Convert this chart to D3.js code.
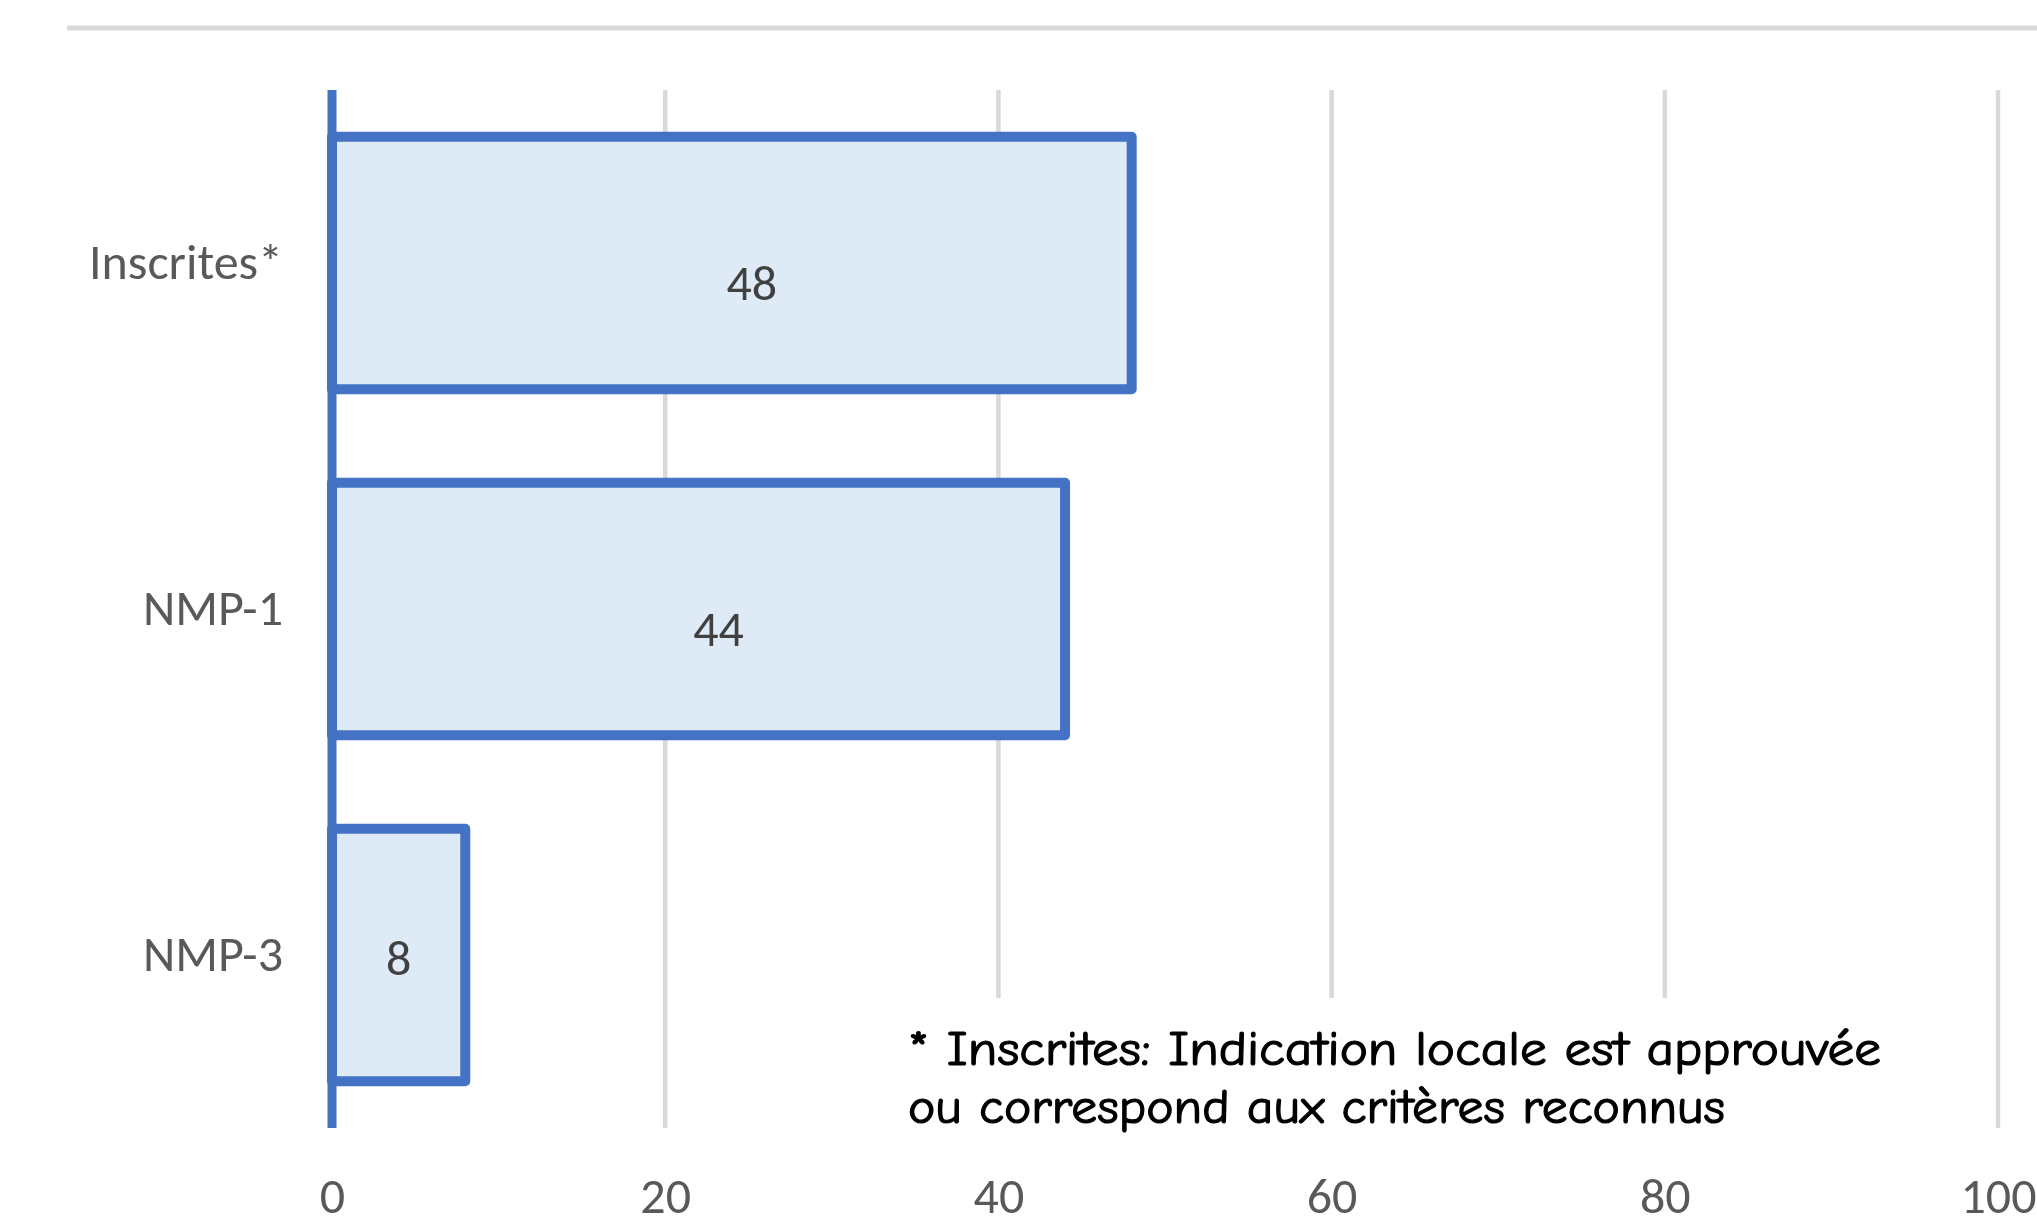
<!DOCTYPE html>
<html>
<head>
<meta charset="utf-8">
<script src="https://cdn.jsdelivr.net/npm/d3@7"></script>
<style>
  html, body { margin: 0; padding: 0; background: #ffffff; }
  svg { display: block; }
</style>
</head>
<body>
<svg id="chart" width="2037" height="1224"></svg>
<script>
// Number of indications per category
const categories = ["Inscrites*", "NMP-1", "NMP-3"];
const values = [48, 44, 8];
const xTicks = [0, 20, 40, 60, 80, 100];
const footnoteLines = [
  "* Inscrites: Indication locale est approuvée",
  "ou correspond aux critères reconnus"
];

const svg = d3.select("#chart");
const W = 2037, H = 1224;

const plot = { left: 332, right: 1998, top: 90, bottom: 1128 };

const x = d3.scaleLinear().domain([0, 100]).range([plot.left, plot.right]);
const y = d3.scaleBand().domain(categories).range([plot.top, plot.bottom])
  .paddingInner(0.27).paddingOuter(0.135);

const gridColor = "#d9d9d9";
const barStroke = "#4472c4";
const barFill = "#deebf7";
const labelFont = "Calibri, Carlito, 'Liberation Sans', Arial, sans-serif";

// thin rule across the top of the figure
svg.append("line")
  .attr("x1", 67).attr("x2", W)
  .attr("y1", 28).attr("y2", 28)
  .attr("stroke", gridColor).attr("stroke-width", 5);

// vertical gridlines
svg.append("g").selectAll("line")
  .data(xTicks.filter(t => t > 0))
  .join("line")
  .attr("x1", d => x(d)).attr("x2", d => x(d))
  .attr("y1", plot.top).attr("y2", plot.bottom)
  .attr("stroke", gridColor).attr("stroke-width", 4.5);

// bars
svg.append("g").selectAll("rect")
  .data(values)
  .join("rect")
  .attr("x", x(0))
  .attr("y", (d, i) => y(categories[i]))
  .attr("width", d => x(d) - x(0))
  .attr("height", y.bandwidth())
  .attr("fill", barFill)
  .attr("stroke", barStroke)
  .attr("stroke-width", 10)
  .attr("stroke-linejoin", "round");

// category axis line
svg.append("line")
  .attr("x1", x(0)).attr("x2", x(0))
  .attr("y1", plot.top).attr("y2", plot.bottom)
  .attr("stroke", barStroke).attr("stroke-width", 9);

// value labels inside bars
svg.append("g").selectAll("text")
  .data(values)
  .join("text")
  .attr("x", d => x(d / 2) + (d > 20 ? 20 : 0))
  .attr("y", (d, i) => y(categories[i]) + y.bandwidth() / 2 + (d > 20 ? 19 : 2))
  .attr("dy", "0.35em")
  .attr("text-anchor", "middle")
  .attr("font-family", labelFont)
  .attr("font-size", 50)
  .attr("fill", "#404040")
  .text(d => d);

// category labels
const yAxis = svg.append("g")
  .attr("transform", `translate(${x(0)},0)`)
  .call(d3.axisLeft(y).tickSize(0).tickPadding(49));
yAxis.select(".domain").remove();
yAxis.selectAll("text")
  .attr("font-family", labelFont)
  .attr("font-size", 50)
  .attr("fill", "#595959");

// value axis tick labels
const xAxis = svg.append("g")
  .attr("transform", `translate(0,${plot.bottom})`)
  .call(d3.axisBottom(x).tickValues(xTicks).tickSize(0).tickPadding(49));
xAxis.select(".domain").remove();
xAxis.selectAll("text")
  .attr("font-family", labelFont)
  .attr("font-size", 50)
  .attr("fill", "#595959");

// footnote on a white box
svg.append("rect")
  .attr("x", 895).attr("y", 998)
  .attr("width", 1005).attr("height", 145)
  .attr("fill", "#ffffff");

const noteWidths = [973, 817];
svg.append("g").selectAll("text")
  .data(footnoteLines)
  .join("text")
  .attr("x", 908)
  .attr("y", (d, i) => 1065 + i * 58)
  .attr("font-family", "'Comic Sans MS', 'Comic Neue', 'DejaVu Sans', sans-serif")
  .attr("font-size", 48)
  .attr("fill", "#000000")
  .attr("stroke", "#000000")
  .attr("stroke-width", 1.2)
  .attr("textLength", (d, i) => noteWidths[i])
  .attr("lengthAdjust", "spacingAndGlyphs")
  .text(d => d);
</script>
</body>
</html>
